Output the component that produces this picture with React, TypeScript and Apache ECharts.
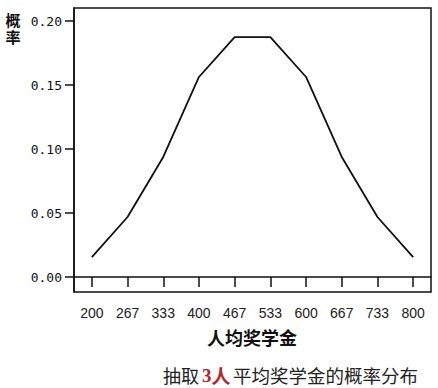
import React, { useEffect, useRef } from "react";
import * as echarts from "echarts";

const categories = ["200", "267", "333", "400", "467", "533", "600", "667", "733", "800"];
const probabilities = [0.0156, 0.0469, 0.0938, 0.1563, 0.1875, 0.1875, 0.1563, 0.0938, 0.0469, 0.0156];
const yTicks = [0, 0.05, 0.1, 0.15, 0.2];
const yTitleChars = ["概", "率"];
const xTitle = "人均奖学金";
const captionParts = ["抽取", "3人", "平均奖学金的概率分布"];

export default function App() {
  const ref = useRef<HTMLDivElement>(null);
  useEffect(() => {
    document.body.style.margin = "0";
    const chart = echarts.init(ref.current!, null, { renderer: "svg" });
    const cjk = "'Noto Sans CJK SC', sans-serif";
    const capY = 375;
    const red = "#b3262b";
    const hl = captionParts[1];
    chart.setOption({
      animation: false,
      backgroundColor: "#ffffff",
      grid: {
        left: 74,
        right: 7,
        top: 8,
        bottom: 96,
        show: true,
        borderColor: "#111",
        borderWidth: 1.5,
        backgroundColor: "transparent",
      },
      xAxis: {
        type: "category",
        data: categories,
        boundaryGap: true,
        axisLine: { show: true, lineStyle: { color: "#111", width: 1.5 } },
        axisTick: { show: true, alignWithLabel: true, length: 10, lineStyle: { color: "#111", width: 1.5 } },
        axisLabel: {
          color: "#222",
          fontFamily: "Liberation Sans, Arial, sans-serif",
          fontSize: 14,
          margin: 14,
        },
        splitLine: { show: false },
      },
      yAxis: {
        type: "value",
        min: -0.0117,
        max: 0.2102,
        axisLine: { show: true, lineStyle: { color: "#111", width: 1.5 } },
        axisTick: { show: true, length: 9, customValues: yTicks, lineStyle: { color: "#111", width: 1.5 } },
        axisLabel: {
          customValues: yTicks,
          formatter: (v: number) => v.toFixed(2),
          color: "#111",
          fontFamily: "DejaVu Sans Mono, monospace",
          fontSize: 13,
          margin: 12,
        },
        splitLine: { show: false },
      },
      series: [
        {
          type: "line",
          data: probabilities,
          symbol: "none",
          lineStyle: { color: "#111", width: 1.8 },
        },
      ],
      graphic: [
        {
          type: "text",
          x: 13,
          y: 19,
          style: {
            text: yTitleChars[0],
            font: `bold 15px ${cjk}`,
            fill: "#111",
            align: "center",
            verticalAlign: "middle",
          },
        },
        {
          type: "text",
          x: 13,
          y: 36,
          style: {
            text: yTitleChars[1],
            font: `bold 15px ${cjk}`,
            fill: "#111",
            align: "center",
            verticalAlign: "middle",
          },
        },
        {
          type: "text",
          x: 252,
          y: 337,
          style: {
            text: xTitle,
            font: `bold 18px ${cjk}`,
            fill: "#111",
            align: "center",
            verticalAlign: "middle",
          },
        },
        {
          type: "text",
          x: 163,
          y: capY,
          style: {
            text: captionParts[0],
            font: `18px ${cjk}`,
            fill: "#222",
            align: "left",
            verticalAlign: "middle",
          },
        },
        {
          type: "text",
          x: 202,
          y: capY,
          style: {
            text: `{d|${hl.slice(0, 1)}}{c|${hl.slice(1)}}`,
            align: "left",
            verticalAlign: "middle",
            rich: {
              d: { fontSize: 19, fontWeight: "bold", fontFamily: "Liberation Serif", fill: red, color: red },
              c: { fontSize: 19, fontWeight: "bold", fontFamily: "Noto Sans CJK SC", fill: red, color: red },
            },
          },
        },
        {
          type: "text",
          x: 233,
          y: capY,
          style: {
            text: captionParts[2],
            font: `18.5px ${cjk}`,
            fill: "#222",
            align: "left",
            verticalAlign: "middle",
          },
        },
      ],
    });
    return () => chart.dispose();
  }, []);
  return <div ref={ref} style={{ width: 438, height: 388 }} />;
}
